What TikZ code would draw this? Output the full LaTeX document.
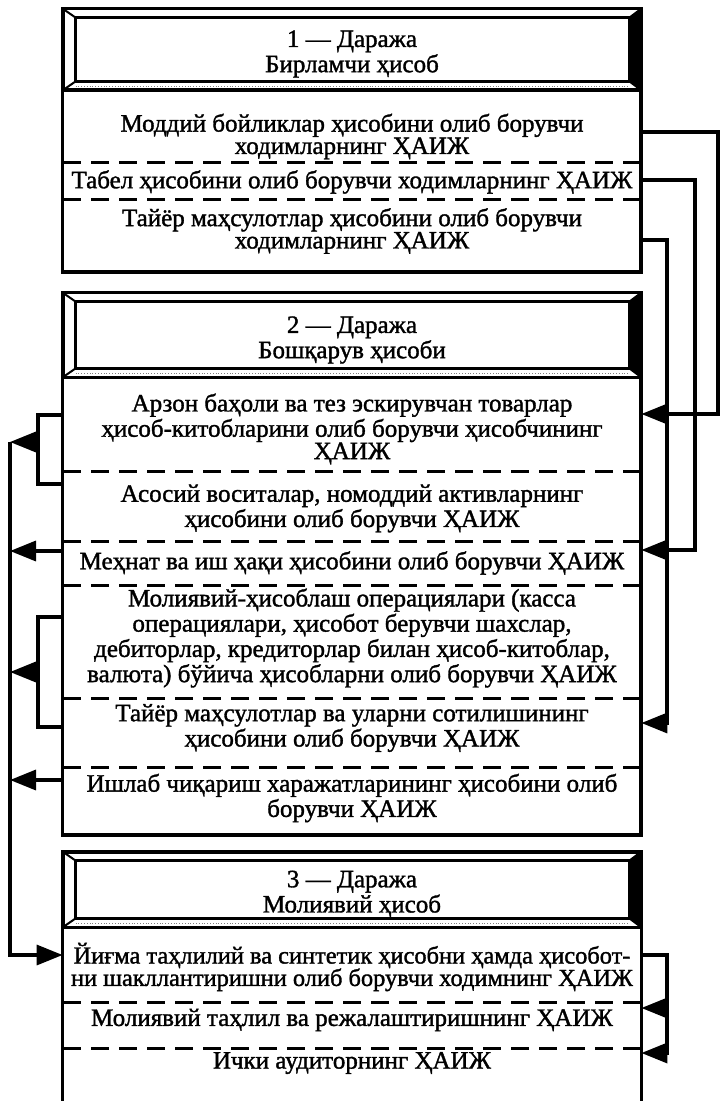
\documentclass[tikz,border=0pt]{standalone}
\usepackage{fontspec}
\setmainfont{Liberation Serif}
\newfontfamily\boxfont{Liberation Serif}[FakeBold=1.4]
\usetikzlibrary{arrows.meta,calc}

\tikzset{
  head/.style={minimum width=289pt, inner sep=0pt},
  title/.style={inner sep=0pt, align=center,
    font=\boxfont\fontsize{12.5}{11.2}\selectfont},
  item/.style={minimum width=289pt, inner sep=0pt, align=center,
    font=\boxfont\fontsize{12.5}{11.2}\selectfont},
  frame/.style={line width=1.6pt},
  sep/.style={line width=1.5pt, dash pattern=on 9pt off 5pt},
  link/.style={line width=1.7pt},
  tip/.style={-{Triangle[length=13pt,width=10pt]}}
}

\begin{document}
\begin{tikzpicture}[x=0.5pt,y=-0.5pt]
  \useasboundingbox (0,0) rectangle (720,1101);
  \coordinate (foot) at (0,1101);
  % level 1
  \node[head, minimum height=40.5pt] (h1) at (352,49.5) {};
  \node[title] (t1) at (352,54) {1 — Даража\\Бирламчи ҳисоб};
  \node[item] (b1a) at (352,136.5) {Моддий бойликлар ҳисобини олиб  борувчи\\ходимларнинг ҲАИЖ};
  \node[item] (b1b) at (352,182) {Табел ҳисобини олиб борувчи ходимларнинг ҲАИЖ};
  \node[item] (b1c) at (352,231) {Тайёр маҳсулотлар ҳисобини олиб борувчи\\ходимларнинг ҲАИЖ};
  % level 2
  \node[head, minimum height=42pt] (h2) at (352,335) {};
  \node[title] (t2) at (352,340) {2 — Даража\\Бошқарув ҳисоби};
  \node[item] (b2a) at (352,429) {Арзон баҳоли ва тез эскирувчан товарлар\\ҳисоб-китобларини олиб борувчи ҳисобчининг\\ҲАИЖ};
  \node[item] (b2b) at (352,508.5) {Асосий воситалар, номоддий активларнинг\\ҳисобини олиб борувчи ҲАИЖ};
  \node[item] (b2c) at (352,563) {Меҳнат ва иш ҳақи ҳисобини олиб борувчи ҲАИЖ};
  \node[item] (b2d) at (352,638) {Молиявий-ҳисоблаш операциялари (касса\\операциялари, ҳисобот берувчи шахслар,\\дебиторлар, кредиторлар билан ҳисоб-китоблар,\\валюта) бўйича ҳисобларни олиб борувчи ҲАИЖ};
  \node[item] (b2e) at (352,728) {Тайёр маҳсулотлар ва уларни сотилишининг\\ҳисобини олиб борувчи ҲАИЖ};
  \node[item] (b2f) at (352,798) {Ишлаб чиқариш харажатларининг ҳисобини олиб\\борувчи ҲАИЖ};
  % level 3
  \node[head, minimum height=37.5pt] (h3) at (352,889.5) {};
  \node[title] (t3) at (352,894) {3 — Даража\\Молиявий ҳисоб};
  \node[item, font=\boxfont\fontsize{12.2}{11.2}\selectfont] (b3a) at (352,967) {Йиғма таҳлилий ва синтетик ҳисобни ҳамда ҳисобот-\\ни шакллантиришни олиб борувчи ходимнинг ҲАИЖ};
  \node[item] (b3b) at (352,1020) {Молиявий таҳлил ва режалаштиришнинг ҲАИЖ};
  \node[item] (b3c) at (352,1063) {Ички аудиторнинг ҲАИЖ};

  % bevelled headers
  \foreach \h in {h1,h2,h3} {
    \coordinate (\h-a) at ($(\h.north west)+(13,9)$);
    \coordinate (\h-b) at ($(\h.north east)+(-12,9)$);
    \coordinate (\h-c) at ($(\h.south east)+(-12,-9)$);
    \coordinate (\h-d) at ($(\h.south west)+(13,-9)$);
    \fill (\h.north east) -- (\h.south east) -- (\h-c) -- (\h-b) -- cycle;
    \draw[gray, densely dotted] ($(\h-d)+(0,5)$) -- ($(\h-c)+(0,5)$);
    \draw[line width=1.4pt] (\h-a) rectangle (\h-c);
    \draw[line width=1pt] (\h.north west) -- (\h-a) (\h.south west) -- (\h-d)
      (\h.north east) -- (\h-b) (\h.south east) -- (\h-c);
    \draw[line width=1.9pt] (\h.north west) rectangle (\h.south east);
  }

  % frames and dashed rows
  \draw[frame] (h1.north west) rectangle (641,272);
  \draw[frame] (h2.north west) rectangle (641,835);
  \draw[frame] (h3.north west |- foot) -- (h3.north west) -- (h3.north east) -- (h3.north east |- foot);
  \foreach \y in {163,200,471,541,585,698,767,1002,1048}
    \draw[sep] (63,\y) -- (641,\y);

  % right links
  \coordinate (rA) at (718,0);
  \coordinate (rB) at (695,0);
  \coordinate (rC) at (667,0);
  \coordinate (pA) at ($(b1a.east)+(0,-4.5)$);
  \coordinate (pB) at ($(b1b.east)+(0,-2)$);
  \coordinate (pC) at ($(b1c.east)+(0,9)$);
  \draw[link,tip] (pA) -- (pA -| rA) |- ($(b2a.east)+(0,-15)$);
  \draw[link,tip] (pB) -- (pB -| rB) |- ($(b2c.east)+(0,-13)$);
  \draw[link,tip] (pC) -- (pC -| rC) |- ($(b2e.east)+(0,-5)$);

  % left links
  \coordinate (lbus) at (10,0);
  \coordinate (lbr) at (38,0);
  \coordinate (q1) at ($(b2a.west)+(0,-14)$);
  \coordinate (q2) at ($(b2b.west)+(0,-24.5)$);
  \coordinate (q3) at ($(b2d.west)+(0,-21)$);
  \coordinate (q4) at ($(b2e.west)+(0,-1)$);
  \coordinate (k1) at (38,442);
  \coordinate (k2) at (38,672);
  \coordinate (k3) at ($(b2c.west)+(0,-12)$);
  \coordinate (k4) at ($(b2f.west)+(0,-18)$);
  \draw[link] (q1) -- (q1 -| lbr) -- (q2 -| lbr) -- (q2);
  \draw[link] (q3) -- (q3 -| lbr) -- (q4 -| lbr) -- (q4);
  \draw[link,tip] (k1) -- (k1 -| lbus);
  \draw[link,tip] (k2) -- (k2 -| lbus);
  \draw[link,tip] (k3) -- (k3 -| lbus);
  \draw[link,tip] (k4) -- (k4 -| lbus);
  \draw[link,tip] (k1 -| lbus) |- ($(b3a.west)+(0,-12)$);

  % level 3 right links
  \coordinate (s0) at ($(b3a.east)+(0,-12)$);
  \coordinate (s1) at ($(b3b.east)+(0,-12)$);
  \coordinate (s2) at ($(b3c.east)+(0,-10)$);
  \draw[link,tip] (s0) -- (s0 -| rC) |- (s2);
  \draw[link,tip] (s1 -| rC) -- (s1);
\end{tikzpicture}
\end{document}
